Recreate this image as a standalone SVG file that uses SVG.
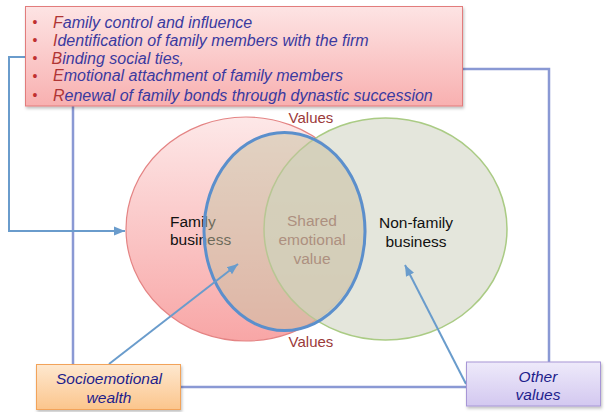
<svg xmlns="http://www.w3.org/2000/svg" width="605" height="412" viewBox="0 0 605 412">
<defs>
<linearGradient id="gRed" x1="0" y1="0" x2="0" y2="1"><stop offset="0" stop-color="#fde8e8"/><stop offset="1" stop-color="#f8a6a6"/></linearGradient>
<linearGradient id="gTop" x1="0" y1="0" x2="0" y2="1"><stop offset="0" stop-color="#fde4e4"/><stop offset="1" stop-color="#f8b0b0"/></linearGradient>
<linearGradient id="gOrange" x1="0" y1="0" x2="0" y2="1"><stop offset="0" stop-color="#fee8cf"/><stop offset="1" stop-color="#fbc58c"/></linearGradient>
<linearGradient id="gPurple" x1="0" y1="0" x2="0" y2="1"><stop offset="0" stop-color="#eeeafa"/><stop offset="1" stop-color="#d3c8f0"/></linearGradient>
<filter id="sh" x="-10%" y="-10%" width="130%" height="140%"><feDropShadow dx="1" dy="2" stdDeviation="1.5" flood-color="#000" flood-opacity="0.25"/></filter>
<marker id="ah" markerUnits="userSpaceOnUse" markerWidth="12" markerHeight="12" viewBox="0 0 12 12" refX="11" refY="6" orient="auto"><path d="M0,1.5 L11,6 L0,10.5 Z" fill="#6a9ccc"/></marker>
<style>
.struct{fill:none;stroke:#8a99d4;stroke-width:2.5}
.arr{fill:none;stroke:#6a9ccc;stroke-width:2}
.t{font-family:"Liberation Sans",Arial,sans-serif}
.list{font-size:16px;font-style:italic;fill:#3a3aa0}
.fl{fill:#b03535}
.bul{font-size:14px;fill:#c03030}
.box{font-size:15.5px;font-style:italic;fill:#1e1e8c}
.val{font-size:15px;fill:#9b3a3a}
</style>
</defs>
<rect width="605" height="412" fill="#fff"/>

<g id="venn">
<g id="family-business">
<ellipse cx="246" cy="229" rx="120" ry="112" fill="url(#gRed)" stroke="#e48484" stroke-width="1.2"/>
</g>
<g id="non-family-business">
<ellipse cx="385.5" cy="229" rx="121.5" ry="111" fill="#dee0d4" fill-opacity="0.82" stroke="#aacb84" stroke-width="1.5"/>
</g>
<text class="t" x="170" y="227" font-size="15.5" fill="#111">Family</text>
<text class="t" x="170" y="245" font-size="15.5" fill="#111">business</text>
<g id="shared-emotional-value">
<ellipse cx="284.5" cy="231.5" rx="80.5" ry="99" fill="#c6c2a2" fill-opacity="0.5" stroke="#5b8fcc" stroke-width="3"/>
<text class="t" x="312" y="226" font-size="15.5" fill="#ad9080" text-anchor="middle">Shared</text>
<text class="t" x="312" y="245" font-size="15.5" fill="#ad9080" text-anchor="middle">emotional</text>
<text class="t" x="312" y="264" font-size="15.5" fill="#ad9080" text-anchor="middle">value</text>
</g>
<text class="t" x="416" y="228" font-size="15.5" fill="#111" text-anchor="middle">Non-family</text>
<text class="t" x="416" y="247" font-size="15.5" fill="#111" text-anchor="middle">business</text>
<text class="t val" x="311" y="123" text-anchor="middle">Values</text>
<text class="t val" x="311" y="347" text-anchor="middle">Values</text>
</g>

<g id="connectors">
<polyline class="struct" points="73,106 73,364"/>
<polyline class="struct" points="463,69 549,69 549,362"/>
<polyline class="struct" points="181,387 466,387"/>
<polyline class="arr" points="25,57 9,57 9,231 125,231" marker-end="url(#ah)"/>
<line class="arr" x1="109" y1="364" x2="238" y2="264" marker-end="url(#ah)"/>
<line class="arr" x1="466" y1="384" x2="405" y2="265" marker-end="url(#ah)"/>
</g>

<g id="seW-attributes">
<rect x="25.5" y="6.5" width="437" height="99.5" fill="url(#gTop)" stroke="#e27b7b" stroke-width="1" filter="url(#sh)"/>
<text class="t bul" x="32.5" y="27">•</text>
<text class="t bul" x="32.5" y="45">•</text>
<text class="t bul" x="32.5" y="63">•</text>
<text class="t bul" x="32.5" y="81">•</text>
<text class="t bul" x="32.5" y="100">•</text>
<text class="t list" x="53" y="28"><tspan class="fl">F</tspan>amily control and influence</text>
<text class="t list" x="53" y="46"><tspan class="fl">I</tspan>dentification of family members with the firm</text>
<text class="t list" x="51.5" y="64"><tspan class="fl">B</tspan>inding social ties,</text>
<text class="t list" x="53" y="81"><tspan class="fl">E</tspan>motional attachment of family members</text>
<text class="t list" x="53" y="101"><tspan class="fl">R</tspan>enewal of family bonds through dynastic succession</text>
</g>

<g id="socioemotional-wealth">
<rect x="36.5" y="364.5" width="144" height="45" fill="url(#gOrange)" stroke="#f2a35a" stroke-width="1" filter="url(#sh)"/>
<text class="t box" x="109" y="384" text-anchor="middle">Socioemotional</text>
<text class="t box" x="109" y="403" text-anchor="middle">wealth</text>
</g>

<g id="other-values">
<rect x="466.5" y="362" width="134" height="44" fill="url(#gPurple)" stroke="#a796d6" stroke-width="1" filter="url(#sh)"/>
<text class="t box" x="538" y="382" text-anchor="middle">Other</text>
<text class="t box" x="538" y="400" text-anchor="middle">values</text>
</g>
</svg>
